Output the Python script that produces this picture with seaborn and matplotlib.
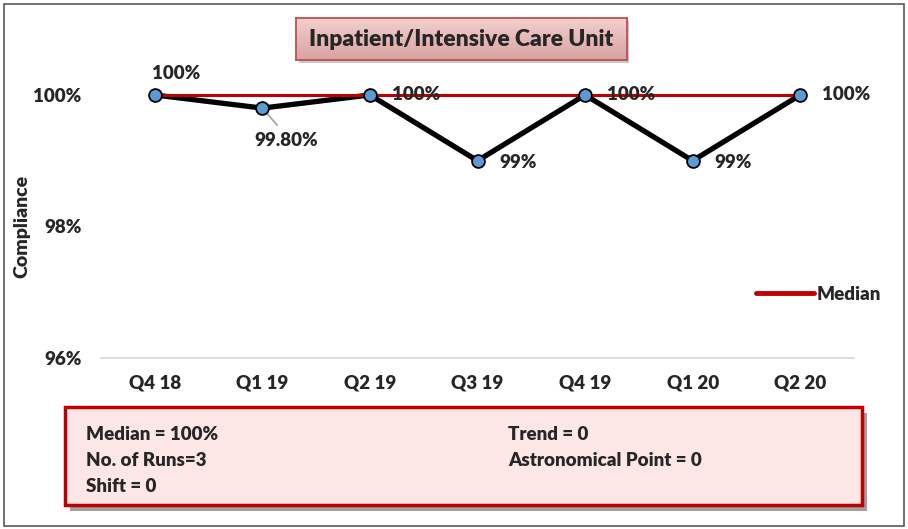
import matplotlib
matplotlib.use("Agg")
import matplotlib.pyplot as plt
import matplotlib.patches as mpatches
from matplotlib.colors import LinearSegmentedColormap
import seaborn as sns
import pandas as pd
import numpy as np

quarters = ["Q4 18", "Q1 19", "Q2 19", "Q3 19", "Q4 19", "Q1 20", "Q2 20"]
compliance = [100.0, 99.8, 100.0, 99.0, 100.0, 99.0, 100.0]
point_labels = ["100%", "99.80%", "100%", "99%", "100%", "99%", "100%"]
median_value = 100.0
y_ticks = [96, 98, 100]
y_tick_labels = ["96%", "98%", "100%"]
title = "Inpatient/Intensive Care Unit"
stats_left = ["Median = 100%", "No. of Runs=3", "Shift = 0"]
stats_right = ["Trend = 0", "Astronomical Point = 0"]

sns.set_style("white")
plt.rcParams["font.family"] = ["Lato", "DejaVu Sans"]
WEIGHT = "heavy"
plt.rcParams["font.weight"] = WEIGHT

df = pd.DataFrame({"x": np.arange(len(quarters)), "q": quarters, "v": compliance,
                   "median": [median_value] * len(quarters)})

W, H = 908, 529
fig = plt.figure(figsize=(W / 100, H / 100), dpi=100)

def fx(px):
    return px / W

def fy(py):
    return 1 - py / H

ax_left, ax_right = 101, 854
ax_top, ax_bottom = 68, 358
ax = fig.add_axes([fx(ax_left), fy(ax_bottom), fx(ax_right - ax_left), (ax_bottom - ax_top) / H])

sns.lineplot(data=df, x="x", y="v", ax=ax, color="black", linewidth=3.8, zorder=2, legend=False)
sns.lineplot(data=df, x="x", y="median", ax=ax, color="#c00000", linewidth=2.2, zorder=3,
             label="Median")
ax.scatter(df["x"], df["v"], s=85, color="#5b9bd5", edgecolor="black", linewidth=1.3, zorder=4)

ax.set_xlim(-0.5, len(quarters) - 0.5)
ax.set_ylim(96, 100.41)
ax.set_yticks(y_ticks)
ax.set_yticklabels(y_tick_labels)
ax.set_xticks(df["x"])
ax.set_xticklabels(quarters)
ax.tick_params(axis="both", length=0, labelsize=13.5)
ax.tick_params(axis="x", pad=12)
ax.tick_params(axis="y", pad=14)
for lab in ax.get_xticklabels() + ax.get_yticklabels():
    lab.set_fontweight(WEIGHT)
ax.set_xlabel("")
ax.set_ylabel("")
fig.text(fx(22), fy(226), "Compliance", rotation=90, fontsize=14, fontweight=WEIGHT,
         ha="center", va="center")
for s in ["top", "right", "left"]:
    ax.spines[s].set_visible(False)
ax.spines["bottom"].set_color("#d9d9d9")
ax.spines["bottom"].set_linewidth(1.3)

# data labels
LFS = 13.5
for i, (v, lab) in enumerate(zip(compliance, point_labels)):
    if i == 0:
        ax.annotate(lab, (i, v), xytext=(-2, 9), textcoords="offset points", fontsize=LFS,
                    fontweight=WEIGHT, ha="left", va="bottom")
    elif i == 1:
        ax.annotate(lab, (i, v), xytext=(17, -23), textcoords="offset points", fontsize=LFS,
                    fontweight=WEIGHT, ha="center", va="center",
                    arrowprops=dict(arrowstyle="-", color="#a6a6a6", lw=1.3,
                                    shrinkA=3, shrinkB=4, relpos=(0.45, 1.0)))
    elif v >= 100:
        ax.annotate(lab, (i, v), xytext=(16, 0), textcoords="offset points", fontsize=LFS,
                    fontweight=WEIGHT, ha="left", va="center")
    else:
        ax.annotate(lab, (i, v), xytext=(16, -1), textcoords="offset points", fontsize=LFS,
                    fontweight=WEIGHT, ha="left", va="center")

leg = ax.legend(loc="center left", frameon=False, fontsize=13.5, handlelength=3.1,
                handletextpad=0.15, borderaxespad=0, borderpad=0)
leg.set_bbox_to_anchor((fx(756), fy(294)), transform=fig.transFigure)
for t in leg.get_texts():
    t.set_fontweight(WEIGHT)
for l in leg.get_lines():
    l.set_linewidth(3.5)
    l.set_solid_capstyle("round")

# title box with vertical gradient
shadow = mpatches.Rectangle((fx(299), fy(63)), fx(330), (42) / H, transform=fig.transFigure,
                            facecolor="#c8c8c8", edgecolor="none", zorder=0)
fig.patches.append(shadow)
gax = fig.add_axes([fx(296), fy(60), fx(331), 42 / H], zorder=1)
cmap = LinearSegmentedColormap.from_list("pk", ["#f2d0cf", "#e6b8b7", "#d9a3a2"])
gax.imshow(np.linspace(0, 1, 64).reshape(-1, 1), aspect="auto", cmap=cmap,
           extent=[0, 1, 0, 1], origin="upper")
gax.set_xticks([])
gax.set_yticks([])
for s in gax.spines.values():
    s.set_color("#c0504d")
    s.set_linewidth(1.3)
gax.text(0.5, 0.5, title, fontsize=16.5, fontweight=WEIGHT, ha="center", va="center",
         transform=gax.transAxes)

# stats box
sh = mpatches.Rectangle((fx(70), fy(511)), fx(797), (98) / H, transform=fig.transFigure,
                        facecolor="#a0a0a0", edgecolor="none", zorder=0)
fig.patches.append(sh)
sbox = mpatches.Rectangle((fx(65), fy(505)), fx(797), (98) / H, transform=fig.transFigure,
                          facecolor="#fde6e6", edgecolor="#c00000", linewidth=2.5, zorder=1)
fig.patches.append(sbox)
SFS = 13.5
for k, t in enumerate(stats_left):
    fig.text(fx(86), fy(434 + 26 * k), t, fontsize=SFS, fontweight=WEIGHT, ha="left", va="center")
for k, t in enumerate(stats_right):
    fig.text(fx(508), fy(434 + 26 * k), t, fontsize=SFS, fontweight=WEIGHT, ha="left", va="center")

# figure border
border = mpatches.Rectangle((fx(4), fy(526)), fx(900), 522 / H, transform=fig.transFigure,
                            facecolor="none", edgecolor="#595959", linewidth=1.2, zorder=5)
fig.patches.append(border)

fig.savefig("out.png", dpi=100)
